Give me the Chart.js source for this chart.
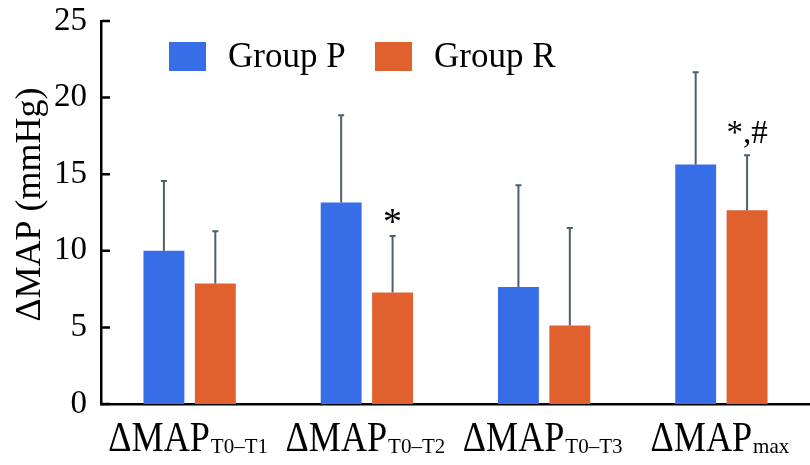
<!DOCTYPE html>
<html>
<head>
<meta charset="utf-8">
<script src="https://cdn.jsdelivr.net/npm/chart.js@4/dist/chart.umd.min.js"></script>
<style>
  html, body { margin: 0; padding: 0; background: #ffffff; }
  #wrap { width: 810px; height: 465px; }
</style>
</head>
<body>
<div id="wrap"><canvas id="c" width="810" height="465"></canvas></div>
<script>
// ---- data ----
const categories = ['T0–T1', 'T0–T2', 'T0–T3', 'max'];   // subscripts of ΔMAP
const labelMain = 'ΔMAP';
const seriesNames = ['Group P', 'Group R'];
const groupP = [10.0, 13.15, 7.64, 15.63];
const groupR = [7.86, 7.27, 5.12, 12.64];
const sdP = [4.56, 5.70, 6.64, 6.02];
const sdR = [3.41, 3.70, 6.37, 3.59];
const marksR = ['', '*', '', '*,#'];
const yTicks = [0, 5, 10, 15, 20, 25];
const yTitle = 'ΔMAP (mmHg)';

const BLUE = '#386de8';
const ORANGE = '#e0602e';
const ERR = '#4e5e6a';
const SERIF = '"Liberation Serif", "Times New Roman", serif';

const errorBars = {
  id: 'errorBars',
  afterDatasetsDraw(chart) {
    const ctx = chart.ctx;
    const y = chart.scales.y;
    const sds = [sdP, sdR];
    ctx.save();
    chart.data.datasets.forEach((ds, di) => {
      const meta = chart.getDatasetMeta(di);
      meta.data.forEach((bar, i) => {
        const top = y.getPixelForValue(ds.data[i] + sds[di][i]);
        const base = y.getPixelForValue(ds.data[i]);
        ctx.strokeStyle = ERR;
        ctx.lineWidth = 2;
        ctx.beginPath();
        ctx.moveTo(bar.x, base);
        ctx.lineTo(bar.x, top);
        ctx.moveTo(bar.x - 3, top);
        ctx.lineTo(bar.x + 3, top);
        ctx.stroke();
      });
    });
    // significance marks above group R
    const metaR = chart.getDatasetMeta(1);
    ctx.fillStyle = '#000';
    ctx.textAlign = 'center';
    ctx.textBaseline = 'alphabetic';
    marksR.forEach((m, i) => {
      if (!m) return;
      const bar = metaR.data[i];
      const top = y.getPixelForValue(groupR[i] + sdR[i]);
      if (m === '*') {
        ctx.font = '38px ' + SERIF;
        ctx.fillText(m, bar.x, top - 2);
      } else {
        ctx.font = '33px ' + SERIF;
        ctx.fillText(m, bar.x, top - 12);
      }
    });
    ctx.restore();
  },
  afterDraw(chart) {
    const ctx = chart.ctx;
    const ca = chart.chartArea;
    const x = chart.scales.x;
    const y = chart.scales.y;
    ctx.save();
    // inward tick marks on y axis
    ctx.strokeStyle = '#000';
    ctx.lineWidth = 2.5;
    ctx.beginPath();
    yTicks.forEach(v => {
      const py = y.getPixelForValue(v);
      ctx.moveTo(ca.left, py);
      ctx.lineTo(ca.left + 9, py);
    });
    ctx.stroke();
    // y axis title
    ctx.save();
    ctx.translate(31, ca.top + (ca.bottom - ca.top) / 2 - 8);
    ctx.rotate(-Math.PI / 2);
    ctx.fillStyle = '#000';
    ctx.font = '36px ' + SERIF;
    ctx.textAlign = 'center';
    ctx.textBaseline = 'middle';
    ctx.fillText(yTitle, 0, 0);
    ctx.restore();
    // category labels with subscripts
    ctx.fillStyle = '#000';
    ctx.textBaseline = 'alphabetic';
    ctx.textAlign = 'left';
    const mainFont = '42px ' + SERIF;
    const subFont = '21px ' + SERIF;
    const sx = 0.86;
    categories.forEach((sub, i) => {
      const cx = x.getPixelForValue(i) - 2;
      ctx.font = mainFont;
      const wm = ctx.measureText(labelMain).width * sx;
      ctx.font = subFont;
      const ws = ctx.measureText(sub).width;
      const start = cx - (wm + ws) / 2;
      ctx.save();
      ctx.translate(start, ca.bottom + 47);
      ctx.scale(sx, 1);
      ctx.font = mainFont;
      ctx.fillText(labelMain, 0, 0);
      ctx.restore();
      ctx.font = subFont;
      ctx.fillText(sub, start + wm + 1, ca.bottom + 49);
    });
    // legend
    const legendItems = chart.data.datasets.map(d => ({ label: d.label, color: d.backgroundColor }));
    const boxX = [169, 375];
    legendItems.forEach((it, i) => {
      ctx.fillStyle = it.color;
      ctx.fillRect(boxX[i], 42, 37, 29);
      ctx.fillStyle = '#000';
      ctx.font = '35px ' + SERIF;
      ctx.fillText(it.label, boxX[i] + 59, 67);
    });
    ctx.restore();
  }
};

new Chart(document.getElementById('c'), {
  type: 'bar',
  data: {
    labels: categories,
    datasets: [
      { label: seriesNames[0], data: groupP, backgroundColor: BLUE, borderWidth: 0,
        barPercentage: 0.796, categoryPercentage: 0.58 },
      { label: seriesNames[1], data: groupR, backgroundColor: ORANGE, borderWidth: 0,
        barPercentage: 0.796, categoryPercentage: 0.58 }
    ]
  },
  options: {
    responsive: false,
    devicePixelRatio: 1,
    animation: false,
    layout: { padding: { top: 21, right: 0, bottom: 0, left: 0 } },
    plugins: { legend: { display: false }, tooltip: { enabled: false } },
    scales: {
      x: {
        type: 'category',
        grid: { display: false, drawTicks: false },
        border: { display: true, color: '#000', width: 2.5 },
        ticks: { display: false },
        afterFit(s) { s.height = 61; s.paddingLeft = 0; s.paddingRight = 0; }
      },
      y: {
        min: 0, max: 25,
        afterBuildTicks(s) { s.ticks = yTicks.map(v => ({ value: v })); },
        grid: { display: false, drawTicks: false },
        border: { display: true, color: '#000', width: 2.5 },
        ticks: { color: '#000', font: { family: SERIF, size: 33 }, padding: 14 },
        title: { display: false },
        afterFit(s) { s.width = 101; s.paddingTop = 0; s.paddingBottom = 0; }
      }
    }
  },
  plugins: [errorBars]
});
</script>
</body>
</html>
